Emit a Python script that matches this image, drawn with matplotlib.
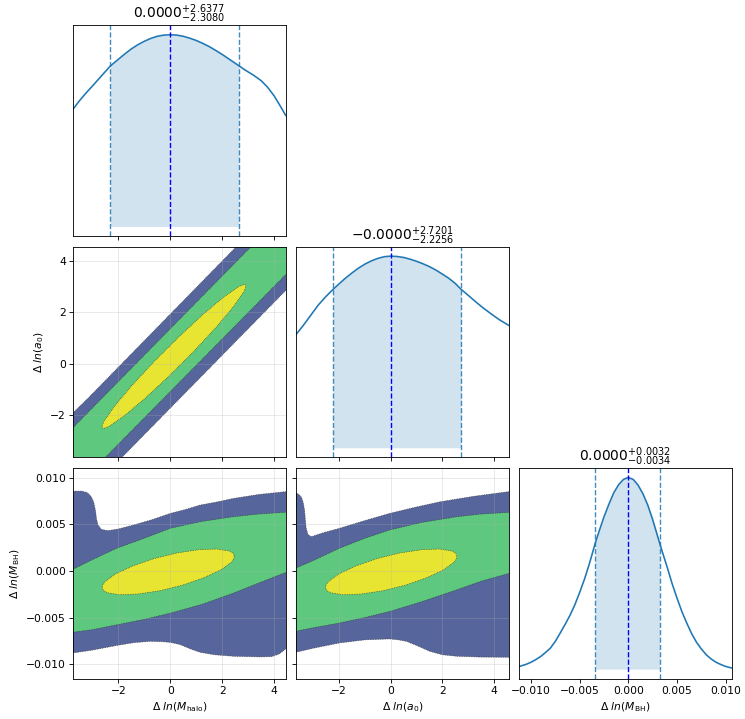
import matplotlib
matplotlib.use('Agg')
import matplotlib.pyplot as plt
import numpy as np

# parameter labels
labels = [r'$\Delta\ ln(M_{\rm halo})$', r'$\Delta\ ln(a_0)$', r'$\Delta\ ln(M_{\rm BH})$']

# 1D marginals (normalised to peak)
mh_x = [-3.73, -3.5, -3.25, -3.0, -2.75, -2.5, -2.308, -2.0, -1.75, -1.5, -1.25, -1.0, -0.75,
        -0.5, -0.25, 0.0, 0.25, 0.5, 0.75, 1.0, 1.25, 1.5, 1.75, 2.0, 2.25, 2.5, 2.6377, 2.9,
        3.2, 3.5, 3.75, 4.0, 4.2, 4.44]
mh_p = [0.614, 0.655, 0.695, 0.732, 0.770, 0.808, 0.837, 0.872, 0.900, 0.926, 0.948, 0.966,
        0.981, 0.992, 0.998, 1.0, 0.998, 0.992, 0.982, 0.970, 0.955, 0.938, 0.918, 0.897,
        0.874, 0.851, 0.838, 0.814, 0.789, 0.760, 0.725, 0.680, 0.635, 0.579]
a0_x = [-3.68, -3.4, -3.1, -2.8, -2.5, -2.2256, -2.0, -1.75, -1.5, -1.25, -1.0, -0.75, -0.5,
        -0.25, 0.0, 0.25, 0.5, 0.75, 1.0, 1.25, 1.5, 1.75, 2.0, 2.25, 2.5, 2.7201, 3.0, 3.3,
        3.6, 3.9, 4.2, 4.56]
a0_p = [0.588, 0.635, 0.690, 0.745, 0.790, 0.827, 0.855, 0.885, 0.912, 0.937, 0.958, 0.975,
        0.988, 0.997, 1.0, 0.998, 0.993, 0.984, 0.973, 0.960, 0.945, 0.927, 0.906, 0.884,
        0.857, 0.827, 0.795, 0.760, 0.727, 0.697, 0.668, 0.639]
bh_x = [-0.0112, -0.0105, -0.010, -0.0095, -0.009, -0.0085, -0.008, -0.0075, -0.007, -0.0065,
        -0.006, -0.0055, -0.005, -0.0045, -0.004, -0.0034, -0.003, -0.0025, -0.002, -0.0015,
        -0.001, -0.0005, 0.0, 0.0005, 0.001, 0.0015, 0.002, 0.0025, 0.0032, 0.0035, 0.004,
        0.0045, 0.005, 0.0055, 0.006, 0.0065, 0.007, 0.0075, 0.008, 0.0085, 0.009, 0.0095,
        0.010, 0.0106]
bh_p = [0.014, 0.025, 0.036, 0.05, 0.066, 0.087, 0.11, 0.145, 0.188, 0.233, 0.28, 0.335, 0.40,
        0.47, 0.55, 0.657, 0.72, 0.795, 0.86, 0.92, 0.962, 0.99, 1.0, 0.99, 0.96, 0.915, 0.855,
        0.78, 0.66, 0.61, 0.53, 0.445, 0.37, 0.30, 0.24, 0.185, 0.14, 0.105, 0.075, 0.053,
        0.036, 0.024, 0.014, 0.006]

# medians and credible bounds
med = [0.0, 0.0, 0.0]
lo = [-2.3080, -2.2256, -0.0034]
hi = [2.6377, 2.7201, 0.0032]
titles = [r'$0.0000^{+2.6377}_{-2.3080}$', r'$-0.0000^{+2.7201}_{-2.2256}$',
          r'$0.0000^{+0.0032}_{-0.0034}$']

# 2D credible regions (outer, middle, inner)
# M_halo vs a0
ha_outer_x = [-3.8, -3.73, -3.2, 2.58, 4.5, 4.5, -1.91, -3.8]
ha_outer_y = [-3.7, -1.90, -1.38, 4.6, 4.6, 2.91, -3.7, -3.7]
ha_mid_x = [-3.8, -3.73, 3.15, 4.5, 4.5, -2.55, -3.8]
ha_mid_y = [-3.7, -2.48, 4.6, 4.6, 3.53, -3.7, -3.7]
ha_in_x = [2.896, 2.805, 2.632, 2.064, 1.266, 0.335, -0.625, -1.490, -2.158, -2.550, -2.625,
           -2.616, -2.525, -2.352, -1.784, -0.986, -0.055, 0.905, 1.770, 2.438, 2.830, 2.905,
           2.896]
ha_in_y = [3.067, 3.075, 2.998, 2.600, 1.923, 1.047, 0.077, -0.865, -1.670, -2.242, -2.415,
           -2.507, -2.515, -2.438, -2.040, -1.363, -0.487, 0.483, 1.425, 2.230, 2.802, 2.975,
           3.067]

# M_halo vs M_BH
hb_outer_x = [-3.8, -3.73, -3.40, -3.2, -3.05, -2.95, -2.88, -2.84, -2.78, -2.65, -2.4, -2.0,
              -1.42, -0.7, 0.0, 0.6, 1.14, 1.8, 2.42, 3.4, 4.5, 4.5, 4.44, 4.2, 3.9, 3.45, 2.42,
              1.7, 1.14, 0.8, 0.37, 0.0, -0.3, -0.78, -1.4, -2.06, -3.0, -3.73, -3.8]
hb_outer_y = [0.00856, 0.00856, 0.00856, 0.0084, 0.0080, 0.0074, 0.0065, 0.0056, 0.0049,
              0.00445, 0.00432, 0.0045, 0.00492, 0.0055, 0.00617, 0.0066, 0.00706, 0.0074,
              0.00777, 0.0082, 0.00852, -0.0083, -0.00838, -0.0089, -0.0092, -0.00923,
              -0.00916, -0.009, -0.00873, -0.0084, -0.0079, -0.00767, -0.0076, -0.00756,
              -0.0077, -0.0080, -0.0085, -0.0088, -0.0088]
hb_mid_x = [-3.8, -3.0, -2.06, -1.0, 0.0, 1.2, 2.42, 3.4, 4.5, 4.5, 3.4, 2.42, 1.2, 0.0, -1.0,
            -2.06, -3.0, -3.8]
hb_mid_y = [0.0001, 0.0012, 0.00243, 0.0035, 0.00457, 0.0053, 0.00581, 0.0061, 0.0063,
            -0.0001, -0.0013, -0.00239, -0.0036, -0.00453, -0.0052, -0.00578, -0.0063, -0.0066]
hb_in_x = [2.46, 2.401, 2.267, 1.789, 1.087, 0.245, -0.639, -1.453, -2.103, -2.509, -2.603,
           -2.62, -2.561, -2.427, -1.949, -1.247, -0.405, 0.479, 1.293, 1.943, 2.349, 2.443,
           2.46]
hb_in_y = [0.00164, 0.00192, 0.00213, 0.00235, 0.00227, 0.00192, 0.00131, 0.00052, -0.00032,
           -0.00115, -0.00152, -0.00185, -0.00213, -0.00234, -0.00256, -0.00248, -0.00213,
           -0.00152, -0.00073, 0.00011, 0.00094, 0.00131, 0.00164]

# a0 vs M_BH
ab_outer_x = [-3.75, -3.68, -3.55, -3.45, -3.38, -3.33, -3.30, -3.27, -3.2, -3.07, -2.6, -1.98,
              -1.0, -0.04, 0.9, 1.90, 3.2, 4.6, 4.6, 3.5, 2.55, 2.0, 1.51, 1.0, 0.61, 0.3,
              -0.04, -1.0, -1.98, -3.0, -3.68, -3.75]
ab_outer_y = [0.00837, 0.00837, 0.0082, 0.0079, 0.0073, 0.0065, 0.0055, 0.0046, 0.0039,
              0.00367, 0.0041, 0.00457, 0.0054, 0.00617, 0.0068, 0.00741, 0.0080, 0.00852,
              -0.00927, -0.00925, -0.00916, -0.0090, -0.00863, -0.0080, -0.00756, -0.0074,
              -0.0073, -0.0074, -0.00773, -0.0083, -0.00874, -0.00874]
ab_mid_x = [-3.75, -3.0, -1.98, -1.0, -0.04, 1.2, 2.55, 3.5, 4.6, 4.6, 3.5, 2.55, 1.2, -0.04,
            -1.0, -1.98, -3.0, -3.75]
ab_mid_y = [0.0002, 0.0011, 0.00243, 0.0035, 0.00439, 0.0052, 0.00581, 0.0061, 0.00628,
            -0.00025, -0.0011, -0.00203, -0.0033, -0.00435, -0.0050, -0.00559, -0.0061,
            -0.00652]
ab_in_x = [2.56, 2.501, 2.367, 1.889, 1.187, 0.345, -0.539, -1.353, -2.003, -2.409, -2.503,
           -2.52, -2.461, -2.327, -1.849, -1.147, -0.305, 0.579, 1.393, 2.043, 2.449, 2.543,
           2.56]
ab_in_y = [0.00164, 0.00192, 0.00213, 0.00235, 0.00227, 0.00192, 0.00131, 0.00052, -0.00032,
           -0.00115, -0.00152, -0.00185, -0.00213, -0.00234, -0.00256, -0.00248, -0.00213,
           -0.00152, -0.00073, 0.00011, 0.00094, 0.00131, 0.00164]

lims = [(-3.73, 4.44), (-3.65, 4.56), (-0.0112, 0.0106)]
ylim_bh = (-0.01157, 0.01105)
region_cols = ['#56659b', '#5ec97e', '#e8e532']

fig, axes = plt.subplots(3, 3, figsize=(745 / 77, 719 / 77), dpi=77)
plt.subplots_adjust(left=0.0985, right=0.982, bottom=0.056, top=0.965, wspace=0.05, hspace=0.05)

for ax in [axes[0, 1], axes[0, 2], axes[1, 2]]:
    ax.axis('off')

# diagonal panels
diag = [(mh_x, mh_p), (a0_x, a0_p), (bh_x, bh_p)]
for i in range(3):
    ax = axes[i, i]
    xx = np.array(diag[i][0])
    pp = np.array(diag[i][1])
    ax.plot(xx, pp, color='C0', lw=1.5)
    inside = (xx >= lo[i] - 1e-9) & (xx <= hi[i] + 1e-9)
    ax.fill_between(xx, 0, pp, where=inside, color='C0', alpha=0.2, lw=0)
    ax.axvline(lo[i], color='C0', ls='--', lw=1.3, alpha=0.85)
    ax.axvline(hi[i], color='C0', ls='--', lw=1.3, alpha=0.85)
    ax.axvline(med[i], color='b', ls='--', lw=1.3)
    ax.set_xlim(lims[i])
    ax.set_yticks([])
    ax.set_title(titles[i], fontsize=13)

# off-diagonal panels
pairs = {
    (1, 0): [(ha_outer_x, ha_outer_y), (ha_mid_x, ha_mid_y), (ha_in_x, ha_in_y)],
    (2, 0): [(hb_outer_x, hb_outer_y), (hb_mid_x, hb_mid_y), (hb_in_x, hb_in_y)],
    (2, 1): [(ab_outer_x, ab_outer_y), (ab_mid_x, ab_mid_y), (ab_in_x, ab_in_y)],
}
for (r, c), regions in pairs.items():
    ax = axes[r, c]
    for (px, py), col in zip(regions, region_cols):
        ax.fill(px, py, facecolor=col, edgecolor='#222222', lw=0.6, ls=':')
    ax.set_xlim(lims[c])
    if r == 1:
        ax.set_ylim(lims[1])
    else:
        ax.set_ylim(ylim_bh)
    ax.grid(True, alpha=0.3)

for ax in [axes[0, 0], axes[1, 0], axes[2, 0], axes[1, 1], axes[2, 1]]:
    ax.set_xticks([-2, 0, 2, 4])
axes[2, 2].set_xticks([-0.01, -0.005, 0.0, 0.005, 0.01])
axes[1, 0].set_yticks([-2, 0, 2, 4])
for ax in [axes[2, 0], axes[2, 1]]:
    ax.set_yticks([-0.01, -0.005, 0.0, 0.005, 0.01])

for ax in [axes[0, 0], axes[1, 0], axes[1, 1]]:
    ax.tick_params(labelbottom=False)
axes[2, 1].tick_params(labelleft=False)

axes[1, 0].set_ylabel(labels[1])
axes[2, 0].set_ylabel(labels[2])
for j in range(3):
    axes[2, j].set_xlabel(labels[j])

plt.savefig('out.png', dpi=77)
